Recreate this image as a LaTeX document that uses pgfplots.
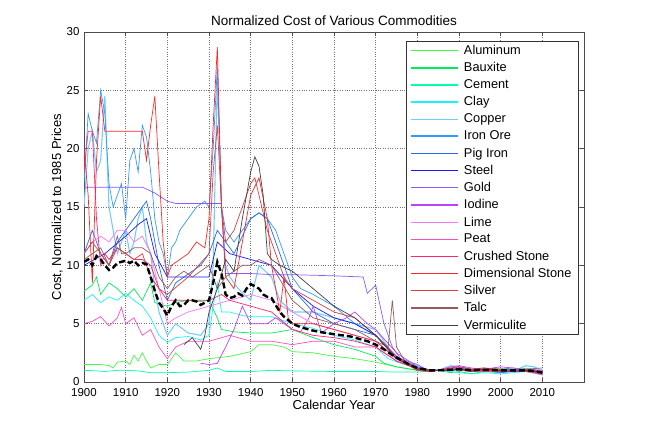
\documentclass[border=0pt]{standalone}
\usepackage{pgfplots}
\pgfplotsset{compat=1.18}
\usepackage{fontspec}
\setmainfont{Liberation Sans}
\definecolor{cAl}{rgb}{0.25,1,0.25}
\definecolor{cBa}{rgb}{0,0.92,0.35}
\definecolor{cCe}{rgb}{0,1,0.7}
\definecolor{cCl}{rgb}{0.1,0.95,1}
\definecolor{cCu}{rgb}{0.45,0.8,1}
\definecolor{cFe}{rgb}{0.2,0.6,1}
\definecolor{cPi}{rgb}{0.15,0.4,1}
\definecolor{cSt}{rgb}{0.1,0.1,1}
\definecolor{cAu}{rgb}{0.55,0.35,1}
\definecolor{cIo}{rgb}{0.75,0.25,1}
\definecolor{cLi}{rgb}{1,0.45,1}
\definecolor{cPe}{rgb}{1,0.3,0.75}
\definecolor{cCr}{rgb}{1,0.15,0.45}
\definecolor{cDi}{rgb}{1,0.15,0.15}
\definecolor{cAg}{rgb}{0.85,0.25,0.25}
\definecolor{cTa}{rgb}{0.6,0.35,0.35}
\definecolor{cVe}{rgb}{0.25,0.25,0.25}
\begin{document}
\begin{tikzpicture}
\useasboundingbox (0,0) rectangle (645bp,430bp);
\begin{axis}[
  at={(84bp,48bp)}, anchor=south west,
  scale only axis, width=500bp, height=350bp,
  xmin=1900, xmax=2020, ymin=0, ymax=30,
  xtick={1900,1910,...,2010},
  extra x ticks={2020}, extra x tick labels={},
  extra x tick style={grid=none},
  ytick={0,5,...,30},
  xticklabel style={/pgf/number format/1000 sep={}, yshift=-3bp},
  yticklabel style={xshift=-1bp},
  /pgf/number format/assume math mode=true,
  tick label style={font=\fontsize{11.5bp}{13bp}\selectfont},
  label style={font=\fontsize{13bp}{15bp}\selectfont},
  title style={font=\fontsize{13.5bp}{15bp}\selectfont, yshift=-3bp},
  title={Normalized Cost of Various Commodities},
  xlabel={Calendar Year}, ylabel={Cost, Normalized to 1985 Prices},
  xlabel style={yshift=3bp}, ylabel style={yshift=-3bp},
  grid=major, major grid style={dotted, black!55, line width=0.6bp},
  tick align=inside, major tick length=4bp,
  axis line style={black!70, line width=0.6bp},
  every tick/.style={black!70},
  legend style={at={(0.644,0.974)}, anchor=north west, fill=white, draw=black!80,
    font=\fontsize{12.8bp}{15bp}\selectfont, row sep=2.5bp, inner xsep=4.5bp, inner ysep=2bp,
    /tikz/every odd column/.append style={column sep=3bp}},
  legend cell align=left,
  legend image code/.code={\draw[#1, line width=1.3bp] (0bp,0bp) -- (47bp,0bp);},
  every axis plot/.append style={line width=0.7bp},
]
% Aluminum
\addplot[color=cAl] coordinates {(1900,1.5)(1902,1.5)(1904,1.5)(1906,1.4)(1907,1.2)(1908,1.7)(1910,1.8)(1911,1.5)(1912,2.3)(1913,1.8)(1914,2.5)(1915,1.8)(1916,1.2)(1918,1.5)(1920,1.5)(1922,2.5)(1924,1.8)(1927,1.8)(1930,2.0)(1935,2.2)(1940,2.6)(1942,3.2)(1945,3.2)(1948,3.0)(1950,2.6)(1955,2.5)(1960,2.2)(1965,2.0)(1970,1.7)(1975,1.3)(1980,1.0)(1983,0.9)(1985,1.0)(1988,1.2)(1990,1.1)(1993,0.9)(1996,1.1)(2000,1.2)(2003,0.9)(2006,1.2)(2008,1.1)(2010,0.8)};
\addlegendentry{Aluminum}
% Bauxite
\addplot[color=cBa] coordinates {(1900,7.8)(1902,8.3)(1903,9.0)(1904,7.5)(1906,8.5)(1908,8.0)(1910,7.3)(1912,8.0)(1914,7.0)(1916,8.5)(1917,6.8)(1920,6.5)(1922,6.8)(1925,7.0)(1928,6.9)(1930,7.0)(1932,5.5)(1933,4.5)(1936,4.3)(1940,4.2)(1945,4.2)(1950,4.5)(1955,3.8)(1960,3.2)(1965,2.8)(1970,2.2)(1972,1.6)(1975,1.3)(1980,1.0)(1983,0.95)(1985,1.0)(1988,0.8)(1990,0.9)(1993,0.7)(1996,0.9)(2000,0.8)(2003,0.9)(2006,1.0)(2010,0.7)};
\addlegendentry{Bauxite}
% Cement
\addplot[color=cCe] coordinates {(1900,1.0)(1903,0.95)(1905,0.9)(1908,1.0)(1910,1.0)(1913,0.95)(1916,0.8)(1920,0.8)(1925,0.85)(1930,1.0)(1932,1.2)(1934,0.9)(1940,0.9)(1945,1.0)(1950,0.95)(1960,0.9)(1970,0.9)(1975,0.85)(1980,0.85)(1985,1.0)(1990,1.0)(1995,0.95)(2000,1.05)(2005,1.0)(2010,0.9)};
\addlegendentry{Cement}
% Clay
\addplot[color=cCl] coordinates {(1900,7.0)(1902,7.5)(1904,6.8)(1906,7.3)(1908,7.0)(1910,7.6)(1912,7.0)(1914,6.5)(1916,5.5)(1918,4.0)(1920,3.4)(1922,3.8)(1925,3.9)(1928,3.6)(1930,4.0)(1931,6.5)(1932,8.5)(1933,6.0)(1935,6.0)(1938,5.7)(1940,5.6)(1945,5.6)(1950,5.0)(1955,4.6)(1960,4.0)(1965,3.6)(1970,3.0)(1973,2.0)(1976,1.6)(1980,1.2)(1983,1.0)(1985,1.0)(1988,0.9)(1990,0.8)(1993,0.7)(1996,0.8)(2000,0.7)(2003,0.8)(2006,0.9)(2010,0.6)};
\addlegendentry{Clay}
% Copper
\addplot[color=cCu, line width=1.1bp] coordinates {(1900,15)(1901,20)(1902,21.5)(1903,18)(1904,19)(1905,24.5)(1906,15)(1907,13)(1908,11)(1909,12)(1910,13)(1911,11)(1912,12)(1913,14)(1914,15)(1915,12)(1916,11)(1917,8)(1918,6)(1919,5)(1920,4)(1922,5)(1925,4.2)(1928,4)(1930,5)(1931,10)(1932,26)(1933,15)(1934,10)(1935,9)(1937,8)(1940,7)(1942,10)(1945,9)(1947,7)(1950,6)(1955,6)(1960,5.5)(1965,5)(1970,4.5)(1975,2)(1980,1.4)(1983,1.0)(1985,1.0)(1988,1.4)(1990,1.3)(1993,1.1)(1996,1.2)(2000,1.0)(2003,0.9)(2006,1.4)(2008,1.3)(2010,1.0)};
\addlegendentry{Copper}
% Iron Ore
\addplot[color=cFe] coordinates {(1900,17)(1901,23)(1902,21.5)(1903,20.5)(1904,25)(1905,23)(1906,17)(1907,15)(1908,16)(1909,17)(1910,14)(1911,19)(1912,20)(1913,18)(1914,22)(1915,21)(1916,18)(1917,14)(1918,12)(1919,11)(1920,9)(1921,11.5)(1922,12)(1923,13)(1925,14)(1927,15)(1929,15.5)(1930,15)(1931,20)(1932,27)(1933,15)(1934,13)(1936,12)(1938,13)(1940,14)(1942,14.5)(1944,14)(1946,13)(1948,11)(1950,9)(1952,8)(1955,7.5)(1960,6.5)(1965,5)(1970,4)(1975,2)(1980,1.1)(1983,0.9)(1985,1.0)(1988,1.1)(1990,1.3)(1993,1.1)(1996,1.0)(2000,1.1)(2003,1.2)(2006,1.1)(2010,0.9)};
\addlegendentry{Iron Ore}
% Pig Iron
\addplot[color=cPi] coordinates {(1900,11)(1902,13)(1904,11)(1906,10)(1908,12)(1910,13)(1912,14)(1914,15)(1915,15.5)(1916,14)(1918,10)(1920,7)(1922,8.5)(1924,9)(1926,9.5)(1928,10)(1930,11)(1932,13)(1934,12)(1936,11)(1938,12.5)(1940,14)(1942,14.5)(1944,14)(1946,12)(1948,10)(1950,8)(1955,6)(1960,5)(1965,4.5)(1970,4)(1975,2)(1980,1.1)(1983,1.0)(1985,1.0)(1988,1.0)(1990,1.1)(1993,0.9)(1996,1.0)(2000,0.9)(2003,1.0)(2006,1.1)(2010,0.8)};
\addlegendentry{Pig Iron}
% Steel
\addplot[color=cSt] coordinates {(1900,10)(1905,11)(1910,12.5)(1913,13.5)(1915,14)(1917,11)(1920,9)(1925,9)(1930,9)(1932,12)(1935,11)(1940,10.5)(1945,10)(1950,8)(1955,6.5)(1960,5.5)(1965,5)(1970,4)(1975,2.2)(1980,1.1)(1983,1.0)(1985,1.0)(1988,1.1)(1990,1.2)(1993,1.0)(1996,1.1)(2000,1.0)(2003,0.9)(2006,1.0)(2010,0.8)};
\addlegendentry{Steel}
% Gold
\addplot[color=cAu] coordinates {(1900,16.7)(1914,16.7)(1917,16.2)(1920,15.5)(1922,15.3)(1933,15.3)(1934,9.3)(1940,9.3)(1945,9.2)(1950,9.2)(1960,9.1)(1967,9.0)(1968,7.6)(1970,8.3)(1972,5)(1974,3)(1976,2)(1980,1.5)(1982,1.1)(1985,1.0)(1988,1.2)(1990,1.1)(1993,0.9)(1996,1.0)(2000,0.8)(2003,0.9)(2006,1.1)(2010,1.2)};
\addlegendentry{Gold}
% Iodine
\addplot[color=cIo] coordinates {(1928,1.6)(1930,1.5)(1932,1.6)(1934,3)(1936,4.5)(1938,6.5)(1940,5)(1942,5)(1944,5)(1946,5.5)(1948,5)(1950,4.5)(1952,4.3)(1954,5.5)(1955,6.5)(1957,4.2)(1960,5)(1963,5.5)(1965,6)(1968,5)(1970,4.5)(1975,2.5)(1980,1.3)(1983,1.0)(1985,1.0)(1988,1.3)(1990,1.4)(1993,1.2)(1996,1.1)(2000,1.3)(2003,1.2)(2006,1.0)(2010,0.9)};
\addlegendentry{Iodine}
% Lime
\addplot[color=cLi] coordinates {(1900,11)(1902,12)(1904,12.5)(1906,12)(1908,13)(1910,13)(1912,12)(1914,12.5)(1916,11)(1918,8)(1920,5)(1922,5.5)(1925,6)(1930,6.5)(1935,7)(1940,7.5)(1945,7)(1950,6)(1955,5)(1960,4.5)(1965,4)(1970,3.5)(1975,2)(1980,1.2)(1983,1.0)(1985,1.0)(1988,1.1)(1990,1.0)(1993,1.1)(1996,1.0)(2000,1.1)(2003,1.0)(2006,0.9)(2010,0.7)};
\addlegendentry{Lime}
% Peat
\addplot[color=cPe] coordinates {(1900,5)(1902,5.2)(1904,5.6)(1906,4.8)(1908,5.5)(1909,6.4)(1910,5)(1912,5.5)(1914,4)(1916,4.5)(1918,3)(1920,2)(1922,3)(1925,3.5)(1930,3.5)(1935,4)(1940,3.5)(1945,3.5)(1950,3.2)(1955,3.5)(1960,3.5)(1965,3)(1970,3)(1975,1.8)(1980,1.2)(1983,1.0)(1985,1.0)(1988,1.2)(1990,1.0)(1993,1.1)(1996,0.9)(2000,1.0)(2003,0.9)(2006,1.0)(2010,0.6)};
\addlegendentry{Peat}
% Crushed Stone
\addplot[color=cCr] coordinates {(1900,18)(1901,21.5)(1902,21.5)(1903,14)(1904,10)(1905,11)(1906,10.5)(1908,11.5)(1910,11)(1912,10.5)(1914,10.5)(1916,10)(1918,8)(1920,7)(1925,7)(1930,7)(1933,7.5)(1935,7)(1940,6.5)(1945,6)(1950,4.5)(1955,4)(1960,3.8)(1965,3.5)(1970,3)(1975,1.8)(1980,1.1)(1983,1.0)(1985,1.0)(1988,1.0)(1990,1.1)(1993,1.0)(1996,0.9)(2000,1.0)(2003,1.0)(2006,0.9)(2010,0.7)};
\addlegendentry{Crushed Stone}
% Dimensional Stone
\addplot[color=cDi] coordinates {(1900,20)(1901,16)(1902,8.5)(1903,19)(1904,24.5)(1905,21.5)(1906,21.5)(1910,21.5)(1914,21.5)(1915,19)(1916,22)(1917,24.5)(1918,18)(1919,12)(1920,9)(1921,10)(1923,10.5)(1925,11)(1927,12)(1929,11.5)(1930,14)(1931,22)(1932,28.7)(1933,15)(1934,9)(1936,8)(1938,12)(1940,16)(1942,17.5)(1944,14)(1945,10)(1947,6)(1948,9)(1949,5.5)(1950,5)(1955,5)(1960,4.5)(1965,4)(1970,3.5)(1975,2)(1980,1.0)(1983,0.9)(1985,1.0)(1988,1.2)(1990,1.3)(1993,1.1)(1996,1.2)(2000,1.1)(2003,1.0)(2006,1.1)(2010,0.9)};
\addlegendentry{Dimensional Stone}
% Silver
\addplot[color=cAg] coordinates {(1900,11)(1902,12)(1904,11)(1906,10)(1908,11.5)(1910,11)(1912,10.5)(1914,11)(1916,9)(1918,8)(1920,7.5)(1925,9)(1930,11)(1931,18)(1932,22)(1933,15)(1934,12)(1936,13)(1938,15)(1940,17)(1941,17.5)(1942,16)(1944,13)(1946,11)(1948,9)(1950,8)(1955,7)(1960,6)(1965,5.5)(1970,4)(1975,2.2)(1980,1.0)(1983,0.9)(1985,1.0)(1988,1.1)(1990,1.0)(1993,0.9)(1996,1.0)(2000,0.9)(2003,1.0)(2006,1.1)(2010,1.0)};
\addlegendentry{Silver}
% Talc
\addplot[color=cTa] coordinates {(1900,10.5)(1902,11)(1904,11.5)(1906,10)(1908,12.5)(1909,11)(1910,11)(1912,11.5)(1914,11.5)(1916,11)(1918,9)(1920,8)(1922,9)(1924,9.5)(1926,9)(1928,9.5)(1930,10)(1932,8)(1934,9)(1936,9.5)(1938,10)(1940,10)(1942,10.5)(1945,10)(1950,7)(1955,5.5)(1960,5)(1965,4.5)(1970,3.5)(1973,3)(1974,7)(1975,3)(1977,1.8)(1980,1.2)(1983,1.0)(1985,1.0)(1988,1.0)(1990,1.1)(1993,1.0)(1996,1.0)(2000,1.1)(2003,1.0)(2006,0.9)(2010,0.8)};
\addlegendentry{Talc}
% Vermiculite
\addplot[color=cVe] coordinates {(1924,3.2)(1926,3.8)(1928,2.8)(1929,4)(1930,6)(1932,8)(1934,10.5)(1936,9.5)(1938,14)(1940,18)(1941,19.3)(1942,18.5)(1943,16)(1944,11)(1945,10.5)(1947,10)(1950,9.5)(1955,8)(1960,6.5)(1965,5.5)(1970,4)(1975,2)(1980,1.2)(1983,1.0)(1985,1.0)(1988,1.0)(1990,1.1)(1993,1.0)(1996,1.1)(2000,1.0)(2003,0.9)(2006,1.0)(2010,0.8)};
\addlegendentry{Vermiculite}
% Mean
\addplot[black, line width=2.4bp, dash pattern=on 6bp off 3bp, forget plot] coordinates {(1900,10.3)(1901,10.5)(1902,10.0)(1903,10.8)(1904,10.5)(1905,10.0)(1906,9.6)(1907,9.8)(1908,10.2)(1909,10.3)(1910,10.4)(1911,10.2)(1912,10.4)(1913,10.0)(1914,10.2)(1915,10.1)(1916,9.0)(1917,7.8)(1918,6.8)(1919,6.3)(1920,5.7)(1921,6.5)(1922,7.0)(1923,6.5)(1924,6.6)(1925,7.0)(1926,7.0)(1927,6.9)(1928,6.6)(1929,6.8)(1930,7.0)(1931,8.5)(1932,10.3)(1933,9.3)(1934,7.5)(1935,7.2)(1936,7.3)(1937,7.6)(1938,7.4)(1939,8.0)(1940,8.4)(1941,8.2)(1942,8.0)(1943,7.5)(1944,7.3)(1945,7.2)(1946,6.6)(1947,6.0)(1948,5.6)(1950,5.0)(1952,4.7)(1955,4.4)(1958,4.2)(1960,4.1)(1964,3.9)(1968,3.5)(1970,3.2)(1972,2.8)(1974,2.3)(1976,1.9)(1978,1.5)(1980,1.2)(1983,1.0)(1985,1.0)(1988,1.05)(1990,1.1)(1993,1.0)(1996,1.05)(2000,1.0)(2003,1.0)(2006,1.0)(2008,0.95)(2010,0.8)};
\end{axis}
\end{tikzpicture}
\end{document}
